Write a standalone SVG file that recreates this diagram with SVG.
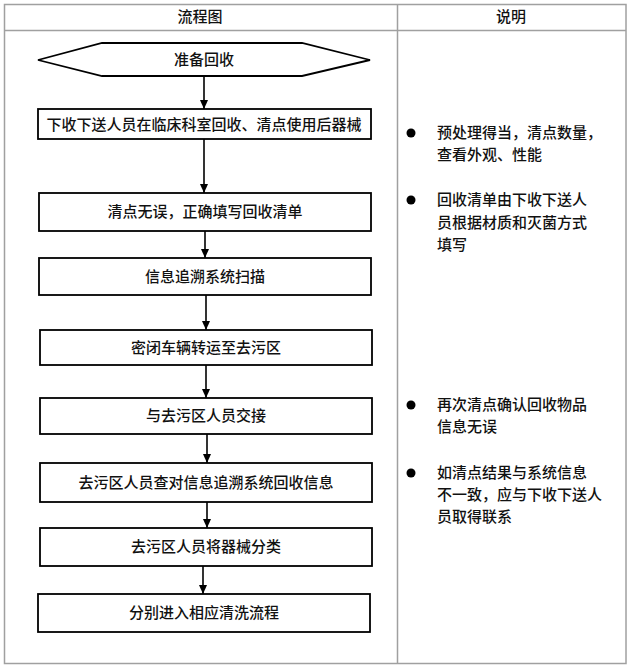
<svg xmlns="http://www.w3.org/2000/svg" width="634" height="670" viewBox="0 0 634 670">
<defs>
<style>
.tbl{fill:none;stroke:#a0a0a0;stroke-width:1.5}
.box{fill:#fff;stroke:#000;stroke-width:1.8}
.t{font-family:"Noto Sans CJK SC","Liberation Sans",sans-serif;font-size:15px;font-weight:500;fill:#111;text-anchor:middle}
.n{font-family:"Noto Sans CJK SC","Liberation Sans",sans-serif;font-size:15px;font-weight:500;fill:#111}
.h{font-family:"Noto Sans CJK SC","Liberation Sans",sans-serif;font-size:15px;font-weight:500;fill:#111;text-anchor:middle}
.c{stroke:#000;stroke-width:1.6;fill:none;marker-end:url(#ah)}
</style>
<marker id="ah" markerWidth="10" markerHeight="10" refX="9" refY="5" orient="auto" markerUnits="userSpaceOnUse">
<path d="M0,1 L9,5 L0,9 Z" fill="#000"/>
</marker>
</defs>
<rect x="0" y="0" width="634" height="670" fill="#fff"/>
<g id="table">
<rect class="tbl" x="4.5" y="4.5" width="621.5" height="659"/>
<line class="tbl" x1="4.5" y1="30.5" x2="626" y2="30.5"/>
<line class="tbl" x1="397.5" y1="4.5" x2="397.5" y2="663.5"/>
<text class="h" x="200" y="22">流程图</text>
<text class="h" x="511" y="22">说明</text>
</g>
<g id="connectors">
<line class="c" x1="204" y1="76" x2="204" y2="109"/>
<line class="c" x1="204" y1="139" x2="204" y2="193"/>
<line class="c" x1="205" y1="231" x2="205" y2="258"/>
<line class="c" x1="206" y1="295" x2="206" y2="330"/>
<line class="c" x1="206" y1="365" x2="206" y2="398"/>
<line class="c" x1="207" y1="434" x2="207" y2="463"/>
<line class="c" x1="207" y1="502" x2="207" y2="528"/>
<line class="c" x1="203" y1="566" x2="203" y2="594"/>
</g>
<g id="n0">
<polygon class="box" points="38,60 102,43 302,43 370,60 302,76 102,76"/>
<text class="t" x="204" y="65">准备回收</text>
</g>
<g id="n1">
<rect class="box" x="38" y="109" width="333" height="30"/>
<text class="t" x="204" y="130">下收下送人员在临床科室回收、清点使用后器械</text>
</g>
<g id="n2">
<rect class="box" x="39" y="193" width="332" height="38"/>
<text class="t" x="205" y="217">清点无误，正确填写回收清单</text>
</g>
<g id="n3">
<rect class="box" x="39" y="258" width="332" height="37"/>
<text class="t" x="205" y="282">信息追溯系统扫描</text>
</g>
<g id="n4">
<rect class="box" x="40" y="330" width="332" height="35"/>
<text class="t" x="206" y="353">密闭车辆转运至去污区</text>
</g>
<g id="n5">
<rect class="box" x="40" y="398" width="332" height="36"/>
<text class="t" x="206" y="421">与去污区人员交接</text>
</g>
<g id="n6">
<rect class="box" x="40" y="463" width="332" height="39"/>
<text class="t" x="206" y="488">去污区人员查对信息追溯系统回收信息</text>
</g>
<g id="n7">
<rect class="box" x="40" y="528" width="332" height="38"/>
<text class="t" x="206" y="552">去污区人员将器械分类</text>
</g>
<g id="n8">
<rect class="box" x="38" y="594" width="332" height="38"/>
<text class="t" x="204" y="618">分别进入相应清洗流程</text>
</g>
<g id="notes">
<circle cx="411" cy="133" r="4.5" fill="#000"/>
<text class="n" x="437" y="138">预处理得当，清点数量，</text>
<text class="n" x="437" y="160">查看外观、性能</text>
<circle cx="411" cy="200" r="4.5" fill="#000"/>
<text class="n" x="437" y="205">回收清单由下收下送人</text>
<text class="n" x="437" y="228">员根据材质和灭菌方式</text>
<text class="n" x="437" y="250">填写</text>
<circle cx="411" cy="405" r="4.5" fill="#000"/>
<text class="n" x="437" y="410">再次清点确认回收物品</text>
<text class="n" x="437" y="432">信息无误</text>
<circle cx="411" cy="473" r="4.5" fill="#000"/>
<text class="n" x="437" y="478">如清点结果与系统信息</text>
<text class="n" x="437" y="500">不一致，应与下收下送人</text>
<text class="n" x="437" y="522">员取得联系</text>
</g>
</svg>
